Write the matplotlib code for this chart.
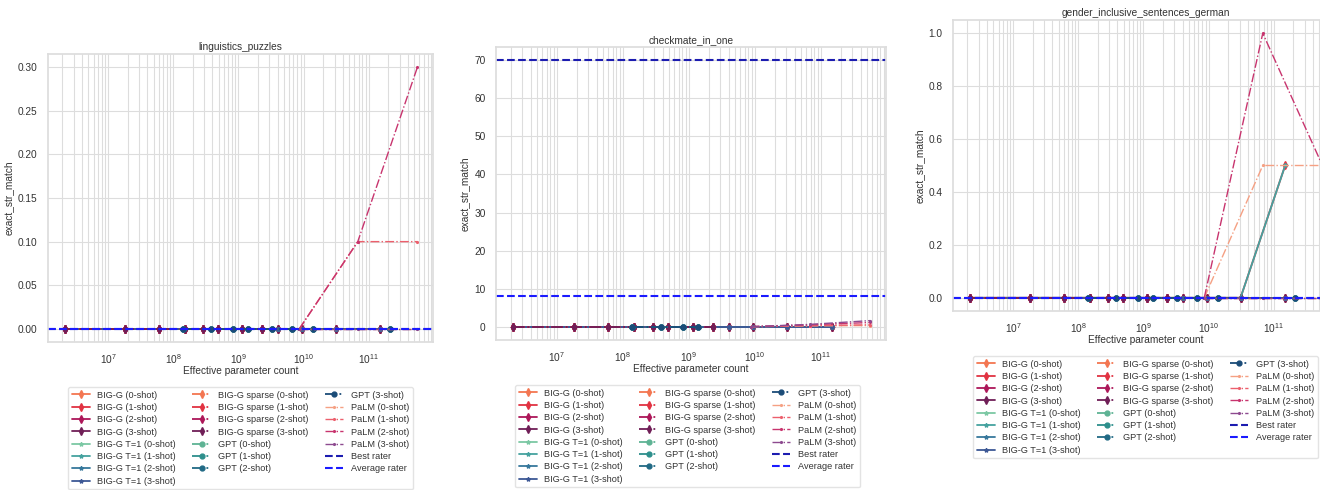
import matplotlib
matplotlib.use('Agg')
import matplotlib.pyplot as plt
import seaborn as sns

sns.set_theme(style='whitegrid')
plt.rcParams['font.family'] = ['Liberation Sans', 'DejaVu Sans']

# ---------------- data ----------------
titles = ['linguistics_puzzles', 'checkmate_in_one', 'gender_inclusive_sentences_german']
shots = ['0-shot', '1-shot', '2-shot', '3-shot']

bigg_x = [2.2e6, 1.8e7, 6.0e7, 1.5e8, 2.9e8, 4.9e8, 1.15e9, 2.3e9, 4.1e9, 9.5e9, 3.1e10, 1.5e11]
bigg_t1_x = [2.2e6, 1.8e7, 6.0e7, 1.5e8, 2.9e8, 4.9e8, 1.15e9, 2.3e9, 4.1e9, 9.5e9, 3.1e10, 1.5e11]
bigg_sparse_x = [2.2e6, 1.8e7, 6.0e7, 1.5e8, 2.9e8, 4.9e8, 1.15e9, 2.3e9]
gpt_x = [1.4e8, 3.8e8, 8.3e8, 1.4e9, 3.3e9, 6.6e9, 1.4e10, 2.1e11]
gpt_x_checkmate = [1.4e8, 3.8e8, 8.3e8, 1.4e9]
palm_x = [8.6e9, 6.8e10, 5.6e11]
x_limits = (1.2e6, 9.7e11)

# linguistics_puzzles: PaLM scores (0/1/2/3-shot)
lp_palm_0shot = [0.0, 0.0, 0.0]
lp_palm_1shot = [0.0, 0.1, 0.1]
lp_palm_2shot = [0.0, 0.1, 0.3]
lp_palm_3shot = [0.0, 0.0, 0.0]
lp_best_rater = 0.0
lp_avg_rater = 0.0

# checkmate_in_one: PaLM scores
cm_palm_0shot = [0.0, 0.2, 0.3]
cm_palm_1shot = [0.0, 0.3, 0.5]
cm_palm_2shot = [0.0, 0.5, 1.1]
cm_palm_3shot = [0.0, 0.6, 1.6]
cm_best_rater = 70.0
cm_avg_rater = 8.0

# gender_inclusive_sentences_german
gi_palm_0shot = [0.0, 0.5, 0.5]
gi_palm_1shot = [0.0, 0.0, 0.0]
gi_palm_2shot = [0.0, 1.0, 0.5]
gi_palm_3shot = [0.0, 0.0, 0.0]
gi_bigg_1shot = [0, 0, 0, 0, 0, 0, 0, 0, 0, 0, 0.0, 0.5]
gi_bigg_t1_1shot = [0, 0, 0, 0, 0, 0, 0, 0, 0, 0, 0.0, 0.5]
gi_best_rater = 0.0
gi_avg_rater = 0.0

# ---------------- styles ----------------
bigg_colors = ['#f37651', '#e13342', '#ad1759', '#701f57']
t1_colors = ['#7cc8a4', '#45a29f', '#37789c', '#3d5895']
gpt_colors = ['#5eb394', '#2d8f8c', '#216a85', '#1b4c78']
palm_colors = ['#f5a083', '#ec5f6c', '#c8346e', '#8d4a8f']
best_color = '#1c1cb0'
avg_color = '#1a1aff'


def zeros(n):
    return [0.0] * n


panels = [
    dict(palm=[lp_palm_0shot, lp_palm_1shot, lp_palm_2shot, lp_palm_3shot],
         bigg={}, t1={}, gptx=gpt_x, best=lp_best_rater, avg=lp_avg_rater),
    dict(palm=[cm_palm_0shot, cm_palm_1shot, cm_palm_2shot, cm_palm_3shot],
         bigg={}, t1={}, gptx=gpt_x_checkmate, best=cm_best_rater, avg=cm_avg_rater),
    dict(palm=[gi_palm_0shot, gi_palm_1shot, gi_palm_2shot, gi_palm_3shot],
         bigg={1: gi_bigg_1shot}, t1={1: gi_bigg_t1_1shot}, gptx=gpt_x,
         best=gi_best_rater, avg=gi_avg_rater),
]

W, H = 1320, 490
fig = plt.figure(figsize=(W / 100, H / 100), dpi=100)

axes_px = [(48, 54, 433, 342), (496, 47, 886, 340), (953, 20, 1338, 311)]
legend_px = [(68, 387), (515, 385), (973, 356)]

FS = 7.3
LFS = 6.6

for i, p in enumerate(panels):
    l, t, r, b = axes_px[i]
    ax = fig.add_axes([l / W, 1 - b / H, (r - l) / W, (b - t) / H])
    ax.set_xscale('log')

    for k in range(4):
        y = p['bigg'].get(k, zeros(len(bigg_x)))
        ax.plot(bigg_x, y, '-', marker='d', ms=3.8, lw=1.3, color=bigg_colors[k],
                label=f'BIG-G ({shots[k]})')
    for k in range(4):
        y = p['t1'].get(k, zeros(len(bigg_t1_x)))
        ax.plot(bigg_t1_x, y, '-', marker='*', ms=3.0, lw=1.3, color=t1_colors[k],
                label=f'BIG-G T=1 ({shots[k]})')
    for k in range(4):
        ax.plot(bigg_sparse_x, zeros(len(bigg_sparse_x)), '-.', marker='d', ms=3.8, lw=1.3,
                color=bigg_colors[k], label=f'BIG-G sparse ({shots[k]})')
    for k in range(4):
        gx = p['gptx']
        ax.plot(gx, zeros(len(gx)), '-.', marker='o', ms=3.5, lw=1.3, color=gpt_colors[k],
                label=f'GPT ({shots[k]})')
    for k in range(4):
        ax.plot(palm_x, p['palm'][k], '-.', marker='.', ms=2.5, lw=1.0, color=palm_colors[k],
                label=f'PaLM ({shots[k]})')
    ax.axhline(p['best'], ls='--', lw=1.5, color=best_color, label='Best rater')
    ax.axhline(p['avg'], ls='--', lw=1.5, color=avg_color, label='Average rater')

    ax.set_xlim(*x_limits)
    ax.set_title(titles[i], fontsize=FS, pad=3, color='#333333')
    ax.set_xlabel('Effective parameter count', fontsize=FS, labelpad=0, color='#333333')
    ax.set_ylabel('exact_str_match', fontsize=FS, labelpad=3, color='#333333')
    ax.tick_params(axis='both', labelsize=FS, pad=1.5, colors='#333333')
    ax.grid(True, which='major', color='#dddddd', lw=0.8)
    ax.grid(True, which='minor', axis='x', color='#dddddd', lw=0.8)
    for s in ax.spines.values():
        s.set_color('#dddddd')
    if i == 0:
        ax.yaxis.set_major_formatter(matplotlib.ticker.FormatStrFormatter('%.2f'))
    elif i == 2:
        ax.yaxis.set_major_formatter(matplotlib.ticker.FormatStrFormatter('%.1f'))

    lx, ly = legend_px[i]
    leg = ax.legend(loc='upper left', bbox_to_anchor=(lx / W, 1 - ly / H),
                    bbox_transform=fig.transFigure, ncol=3, fontsize=LFS,
                    labelspacing=0.36, handlelength=2.0, columnspacing=1.8,
                    borderpad=0.4, borderaxespad=0, frameon=True, fancybox=True)
    leg.get_frame().set_edgecolor('#dddddd')
    for txt in leg.get_texts():
        txt.set_color('#333333')

fig.savefig('out.png', dpi=100)
